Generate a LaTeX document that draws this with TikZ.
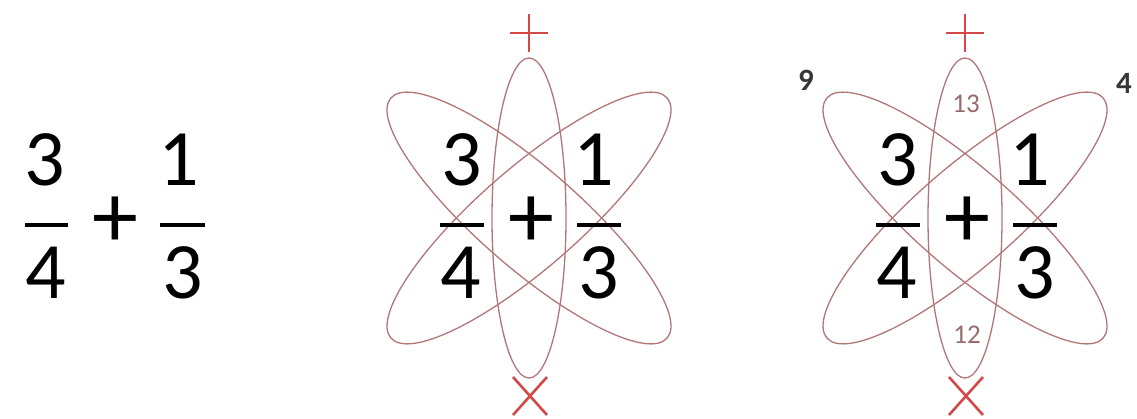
\documentclass[tikz,border=0pt]{standalone}
\usepackage{fontspec}
\setmainfont{Carlito}
\usetikzlibrary{positioning}

\definecolor{orbitred}{RGB}{178,118,118}
\definecolor{signred}{RGB}{212,72,72}
\definecolor{notegray}{RGB}{150,108,108}
\definecolor{darkgray}{RGB}{55,55,55}

\begin{document}
\begin{tikzpicture}[
  x=1pt, y=-1pt,
  digit/.style={font=\fontsize{80}{80}\selectfont, inner sep=0pt, anchor=base},
  op/.style={font=\fontsize{92}{92}\selectfont, inner sep=0pt},
  orbit/.style={draw=orbitred, line width=1.3pt},
  sign/.style={draw=signred, line width=2.6pt},
  bar/.style={line width=3.6pt},
  note/.style={font=\fontsize{27}{27}\selectfont, text=notegray, inner sep=0pt},
  corner/.style={font=\fontsize{31}{31}\selectfont\bfseries, text=darkgray, inner sep=0pt}
]
  \useasboundingbox (0,0) rectangle (1137,419);

  % Plain sum
  \node (lnum) at (45,186) [digit] {3};
  \node (lden) at (46,299) [digit] {4};
  \draw [bar] (25,225) -- (68,225);
  \node (lplus) at (115,222) [op] {+};
  \node (rnum) at (179,186) [digit] {1};
  \node (rden) at (183,299) [digit] {3};
  \draw [bar] (160,225) -- (205,225);

  % Two atom diagrams
  \foreach \ox/\k in {0/a, 436/b} {
    \coordinate (core-\k) at (529+\ox,218);
    \draw [orbit] (core-\k) ellipse [x radius=37pt, y radius=160pt];
    \draw [orbit, rotate around={41:(core-\k)}] (core-\k) ellipse [x radius=183pt, y radius=50pt];
    \draw [orbit, rotate around={-41:(core-\k)}] (core-\k) ellipse [x radius=183pt, y radius=50pt];

    % red signs at the ends
    \coordinate (top-\k) at (529+\ox,33);
    \coordinate (bot-\k) at (530+\ox,396);
    \draw [sign] ([xshift=-19pt]top-\k) -- ([xshift=19pt]top-\k);
    \draw [sign] ([yshift=-19pt]top-\k) -- ([yshift=19pt]top-\k);
    \draw [sign] ([shift={(-17pt,-19pt)}]bot-\k) -- ([shift={(17pt,19pt)}]bot-\k);
    \draw [sign] ([shift={(-17pt,19pt)}]bot-\k) -- ([shift={(17pt,-19pt)}]bot-\k);

    % fractions
    \node (num1-\k) at (462+\ox,186) [digit] {3};
    \node (den1-\k) at (461+\ox,299) [digit] {4};
    \draw [bar] (440+\ox,225) -- (484+\ox,225);
    \node (plus-\k) at (531+\ox,222) [op] {+};
    \node (num2-\k) at (594+\ox,186) [digit] {1};
    \node (den2-\k) at (599+\ox,299) [digit] {3};
    \draw [bar] (577+\ox,225) -- (621+\ox,225);
  }

  % Working numbers
  \node (nine) at (806,80) [corner] {9};
  \node (four) at (1124,83) [corner] {4};
  \node (upper) at (966,104) [note] {13};
  \node (lower) at (967,335) [note] {12};

\end{tikzpicture}
\end{document}
